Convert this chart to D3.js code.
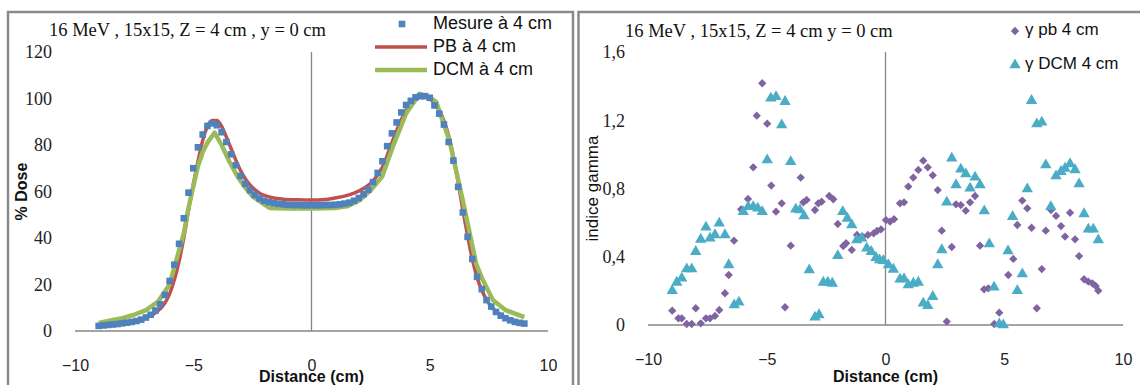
<!DOCTYPE html>
<html><head><meta charset="utf-8">
<script src="https://cdn.jsdelivr.net/npm/d3@7"></script>
<style>
html,body{margin:0;padding:0;background:#fff;}
svg{display:block;}
</style></head>
<body>
<svg id="c" width="1140" height="385"></svg>
<script>
// ---------- DATA ----------
const xTicks = [-10, -5, 0, 5, 10];
const doseTicks = [0, 20, 40, 60, 80, 100, 120];
const gammaTicks = [0, 0.4, 0.8, 1.2, 1.6];

const leftTitle = "16 MeV , 15x15, Z = 4 cm , y = 0 cm";
const rightTitle = "16 MeV , 15x15, Z = 4 cm y = 0 cm";
const doseSeriesNames = ["Mesure à 4 cm", "PB à 4 cm", "DCM à 4 cm"];
const gammaSeriesNames = ["γ pb 4 cm", "γ DCM 4 cm"];

// Mesure à 4 cm : [distance cm, % dose]
const mesure = [
[-9.0,2.2],[-8.8,2.4],[-8.6,2.6],[-8.4,2.8],[-8.2,3.0],[-8.0,3.3],[-7.8,3.6],[-7.6,3.9],[-7.4,4.3],[-7.2,4.9],
[-7.0,5.8],[-6.8,7.0],[-6.6,8.8],[-6.4,11.5],[-6.2,15.5],[-6.0,21.5],[-5.8,28.5],[-5.6,37.5],[-5.4,48.5],[-5.2,59.5],
[-5.0,70],[-4.8,79],[-4.6,84.5],[-4.4,88.2],[-4.2,89.3],[-4.0,88.5],[-3.8,85.5],[-3.6,81.3],[-3.4,76],[-3.2,71.3],
[-3.0,66.7],[-2.8,63.3],[-2.6,60.6],[-2.4,58.5],[-2.2,57],[-2.0,56],[-1.8,55.4],[-1.6,55],[-1.4,54.7],[-1.2,54.5],
[-1.0,54.3],[-0.8,54.2],[-0.6,54.2],[-0.4,54.1],[-0.2,54.1],[0,54.1],[0.2,54.1],[0.4,54.1],[0.6,54.2],[0.8,54.2],
[1.0,54.3],[1.2,54.5],[1.4,54.8],[1.6,55.2],[1.8,56],[2.0,57.2],[2.2,58.8],[2.4,60.8],[2.6,64],[2.8,68],
[3.0,73],[3.2,79.5],[3.4,85],[3.6,89.7],[3.8,94],[4.0,97.2],[4.2,99],[4.4,100.5],[4.6,101],[4.8,101],
[5.0,100.3],[5.2,97],[5.4,93.5],[5.6,88.8],[5.8,81.3],[6.0,73.3],[6.2,62],[6.4,51],[6.6,40.5],[6.8,31],
[7.0,23.3],[7.2,18],[7.4,13.3],[7.6,10.5],[7.8,8.2],[8.0,6.6],[8.2,5.5],[8.4,4.6],[8.6,3.9],[8.8,3.5],[9.0,3.2]
];

// PB à 4 cm
const pb = [
[-9.0,2.5],[-8.5,3.0],[-8.0,3.6],[-7.5,4.5],[-7.0,5.8],[-6.6,7.8],[-6.2,12],[-6.0,16],[-5.8,22],[-5.6,30],
[-5.4,40],[-5.2,52],[-5.0,63],[-4.8,73],[-4.6,82],[-4.4,88],[-4.2,90.5],[-4.0,90.5],[-3.8,88],[-3.6,83.5],
[-3.4,78.5],[-3.2,73.5],[-3.0,69],[-2.8,65.5],[-2.6,62.8],[-2.4,60.8],[-2.2,59.3],[-2.0,58.3],[-1.6,57.2],[-1.2,56.7],
[-0.6,56.4],[0,56.3],[0.6,56.6],[1.0,57.2],[1.4,58],[1.8,59.3],[2.2,61.3],[2.6,64.5],[3.0,70.5],[3.4,81],
[3.8,91],[4.2,98],[4.6,101],[4.8,101],[5.0,100],[5.2,98],[5.4,95],[5.6,90.5],[5.8,84],[6.0,75],
[6.2,64],[6.4,52],[6.6,41],[6.8,31],[7.0,23],[7.2,17.5],[7.4,13.5],[7.6,10.5],[8.0,7],[8.5,4.8],[9.0,3.5]
];

// DCM à 4 cm
const dcm = [
[-9.0,3.5],[-8.5,4.5],[-8.0,5.5],[-7.5,7],[-7.0,9],[-6.5,12.5],[-6.0,20],[-5.7,31],[-5.4,42],[-5.2,53],
[-5.0,62],[-4.8,71],[-4.6,77],[-4.4,81],[-4.1,85.3],[-3.8,80],[-3.47,72.8],[-3.1,66],[-2.83,62],[-2.5,58],
[-2.06,54.9],[-1.78,52.9],[-1.0,52.7],[0,52.7],[1.0,52.9],[1.5,53.6],[2.0,56],[2.5,60.5],[2.99,66.4],[3.44,79.3],
[4.0,93.6],[4.57,102],[5.0,100.5],[5.27,98.6],[5.83,82],[6.4,56],[6.96,29],[7.24,22],[7.67,13.3],[8.2,9],[9.0,6]
];

// γ pb 4 cm : [distance cm, indice gamma]
const gammaPB = [
[-8.98,0.084],[-8.72,0.039],[-8.58,0.039],[-8.37,0.006],[-8.16,0.006],[-7.99,0.098],[-7.78,0.01],[-7.56,0.039],[-7.39,0.039],[-7.18,0.053],
[-7.0,0.088],[-6.76,0.186],[-6.6,0.293],[-6.38,0.494],[-6.08,0.678],[-5.79,0.739],[-5.57,0.924],[-5.42,1.227],[-5.19,1.417],[-4.98,1.18],
[-4.81,0.817],[-4.61,0.664],[-4.37,0.713],[-4.23,0.104],[-3.99,0.465],[-3.57,0.864],[-3.46,0.719],[-3.32,0.733],[-2.97,0.674],[-2.83,0.713],
[-2.69,0.723],[-2.37,0.756],[-2.2,0.737],[-2.01,0.592],[-1.78,0.463],[-1.66,0.479],[-1.42,0.44],[-1.2,0.528],[-0.96,0.518],[-0.74,0.528],
[-0.5,0.537],[-0.36,0.551],[-0.19,0.561],[0.02,0.615],[0.19,0.606],[0.36,0.62],[0.61,0.713],[0.78,0.719],[0.96,0.811],[1.17,0.864],
[1.38,0.909],[1.59,0.963],[1.78,0.924],[1.99,0.877],[2.2,0.791],[2.37,0.553],[2.58,0.02],[2.79,0.457],[2.97,0.707],[3.17,0.703],
[3.38,0.67],[3.56,0.719],[3.77,0.756],[3.98,0.465],[4.15,0.209],[4.33,0.215],[4.58,0.006],[4.79,0.072],[5.17,0.293],[5.38,0.387],
[5.55,0.586],[5.76,0.729],[5.97,0.684],[6.15,0.57],[6.37,0.098],[6.58,0.328],[6.75,0.553],[6.97,0.674],[7.18,0.639],[7.39,0.58],
[7.56,0.518],[7.77,0.658],[7.98,0.502],[8.15,0.404],[8.36,0.268],[8.54,0.254],[8.71,0.244],[8.85,0.229],[8.96,0.201]
];

// γ DCM 4 cm
const gammaDCM = [
[-8.98,0.201],[-8.79,0.25],[-8.58,0.274],[-8.37,0.328],[-8.16,0.328],[-7.99,0.43],[-7.78,0.502],[-7.56,0.573],[-7.39,0.508],[-7.18,0.528],
[-7.0,0.596],[-6.76,0.528],[-6.6,0.352],[-6.37,0.117],[-6.17,0.133],[-5.99,0.664],[-5.78,0.693],[-5.57,0.693],[-5.38,0.684],[-5.19,0.664],
[-4.98,0.967],[-4.83,1.329],[-4.61,1.338],[-4.37,1.172],[-4.23,1.309],[-3.99,0.957],[-3.78,0.678],[-3.6,0.674],[-3.43,0.639],[-3.21,0.322],
[-2.97,0.045],[-2.8,0.059],[-2.62,0.25],[-2.43,0.25],[-2.24,0.244],[-2.01,0.406],[-1.8,0.664],[-1.61,0.625],[-1.42,0.586],[-1.21,0.498],
[-1.0,0.508],[-0.79,0.45],[-0.6,0.43],[-0.4,0.395],[-0.25,0.381],[-0.09,0.377],[0.12,0.352],[0.33,0.326],[0.61,0.268],[0.78,0.27],
[0.96,0.234],[1.17,0.244],[1.38,0.25],[1.59,0.127],[1.78,0.113],[1.99,0.166],[2.2,0.352],[2.37,0.44],[2.58,0.719],[2.79,0.977],
[2.97,0.821],[3.17,0.913],[3.38,0.885],[3.56,0.801],[3.77,0.866],[3.98,0.821],[4.16,0.668],[4.37,0.475],[4.57,0.221],[4.79,0.006],
[4.96,0.0],[5.16,0.434],[5.35,0.635],[5.55,0.201],[5.76,0.299],[5.97,0.797],[6.15,1.315],[6.37,1.178],[6.58,1.188],[6.75,0.938],
[6.96,0.693],[7.18,0.873],[7.39,0.899],[7.56,0.918],[7.77,0.944],[7.98,0.909],[8.15,0.826],[8.36,0.651],[8.54,0.561],[8.75,0.561],[8.96,0.498]
];

// ---------- DRAW ----------
const C = {blue:"#4F81BD", red:"#C0504D", green:"#9BBB59", purple:"#8064A2", teal:"#4BACC6", axis:"#868686", border:"#8a8a8a"};
const svg = d3.select("#c");
svg.append("rect").attr("width",1140).attr("height",385).attr("fill","#fff");

const serif = "'Liberation Serif','Times New Roman',serif";
const sans = "'Liberation Sans',Arial,sans-serif";

// panel borders
svg.append("rect").attr("x",8).attr("y",12).attr("width",565).attr("height",400)
  .attr("fill","none").attr("stroke",C.border).attr("stroke-width",2.5);
svg.append("rect").attr("x",578.5).attr("y",12).attr("width",600).attr("height",400)
  .attr("fill","none").attr("stroke",C.border).attr("stroke-width",2.5);

function commaFmt(d){ return String(d).replace(".", ","); }

function drawFrame(x, y, yTicks, yFmt, yEnd, title, titleX, titleY, yLabel, yLabelX, yLabelBold, yLabelSize){
  const g = svg.append("g");
  const [x0, x1] = x.range();
  const yb = y(0), yt = y(yTicks[yTicks.length-1]);
  g.append("line").attr("x1",x0).attr("x2",x1).attr("y1",yb).attr("y2",yb)
    .attr("stroke",C.axis).attr("stroke-width",1.3);
  g.append("line").attr("x1",x(0)).attr("x2",x(0)).attr("y1",yt).attr("y2",yb)
    .attr("stroke",C.axis).attr("stroke-width",1.3);
  const ax = g.append("g").attr("transform",`translate(0,${yb})`)
    .call(d3.axisBottom(x).tickValues(xTicks).tickSize(0).tickPadding(29).tickFormat(d3.format("d")));
  ax.select(".domain").remove();
  ax.selectAll("text").attr("font-family",sans).attr("font-size",16).attr("fill","#222");
  const ay = g.append("g").attr("transform",`translate(${x0},0)`)
    .call(d3.axisLeft(y).tickValues(yTicks).tickSize(0).tickPadding(x0-yEnd).tickFormat(yFmt));
  ay.select(".domain").remove();
  ay.selectAll("text").attr("font-family",serif).attr("font-size",18).attr("fill","#222");
  g.append("text").attr("x",titleX).attr("y",titleY).attr("font-family",serif).attr("font-size",18.5)
    .attr("fill","#111").attr("dominant-baseline","middle").text(title);
  g.append("text").attr("x",x(0)).attr("y",378).attr("text-anchor","middle").attr("dominant-baseline","middle")
    .attr("font-family",sans).attr("font-weight","bold").attr("font-size",16).attr("fill","#111").text("Distance (cm)");
  g.append("text").attr("transform",`translate(${yLabelX},${(yb+yt)/2}) rotate(-90)`)
    .attr("text-anchor","middle").attr("dominant-baseline","middle")
    .attr("font-family",sans).attr("font-weight",yLabelBold?"bold":"normal").attr("font-size",yLabelSize)
    .attr("fill","#111").text(yLabel);
}

// ----- Left chart -----
const xL = d3.scaleLinear().domain([-10,10]).range([75,548]);
const yL = d3.scaleLinear().domain([0,120]).range([331,52]);
drawFrame(xL, yL, doseTicks, d3.format("d"), 52, leftTitle, 49, 32, "% Dose", 23, true, 16);

svg.append("path").datum(pb).attr("d", d3.line().x(d=>xL(d[0])).y(d=>yL(d[1])).curve(d3.curveMonotoneX)).attr("fill","none")
  .attr("stroke",C.red).attr("stroke-width",3.5).attr("stroke-linejoin","round");
svg.append("path").datum(dcm).attr("d", d3.line().x(d=>xL(d[0])).y(d=>yL(d[1])).curve(d3.curveLinear)).attr("fill","none")
  .attr("stroke",C.green).attr("stroke-width",4.5).attr("stroke-linejoin","round");
svg.append("g").selectAll("rect").data(mesure).join("rect")
  .attr("x",d=>xL(d[0])-3.3).attr("y",d=>yL(d[1])-3.3).attr("width",6.6).attr("height",6.6).attr("fill",C.blue);

// left legend
const lg = svg.append("g");
lg.append("rect").attr("x",402-3.3).attr("y",24-3.3).attr("width",6.6).attr("height",6.6).attr("fill",C.blue);
lg.append("line").attr("x1",375).attr("x2",427).attr("y1",47).attr("y2",47).attr("stroke",C.red).attr("stroke-width",3.5);
lg.append("line").attr("x1",375).attr("x2",427).attr("y1",70).attr("y2",70).attr("stroke",C.green).attr("stroke-width",4.5);
[24,47,70].forEach((yy,i)=>{
  lg.append("text").attr("x",433).attr("y",yy).attr("dominant-baseline","middle")
    .attr("font-family",sans).attr("font-size",18).attr("fill","#111").text(doseSeriesNames[i]);
});

// ----- Right chart -----
const xR = d3.scaleLinear().domain([-10,10]).range([648,1123]);
const yR = d3.scaleLinear().domain([0,1.6]).range([325,52]);
drawFrame(xR, yR, gammaTicks, commaFmt, 625, rightTitle, 625, 33, "indice gamma", 594, false, 17);

const diamond = d3.symbol().type(d3.symbolDiamond2).size(44);
const tri = d3.symbol().type(d3.symbolTriangle).size(56);
svg.append("g").selectAll("path").data(gammaPB).join("path")
  .attr("transform",d=>`translate(${xR(d[0])},${yR(d[1])})`).attr("d",diamond).attr("fill",C.purple);
svg.append("g").selectAll("path").data(gammaDCM).join("path")
  .attr("transform",d=>`translate(${xR(d[0])},${yR(d[1])})`).attr("d",tri).attr("fill",C.teal);

// right legend
const rg = svg.append("g");
rg.append("path").attr("transform","translate(1015,31)").attr("d",diamond).attr("fill",C.purple);
rg.append("path").attr("transform","translate(1015,65)").attr("d",tri).attr("fill",C.teal);
[31,65].forEach((yy,i)=>{
  rg.append("text").attr("x",1025).attr("y",yy).attr("dominant-baseline","middle")
    .attr("font-family",sans).attr("font-size",17).attr("fill","#111").text(gammaSeriesNames[i]);
});
</script>
</body></html>
